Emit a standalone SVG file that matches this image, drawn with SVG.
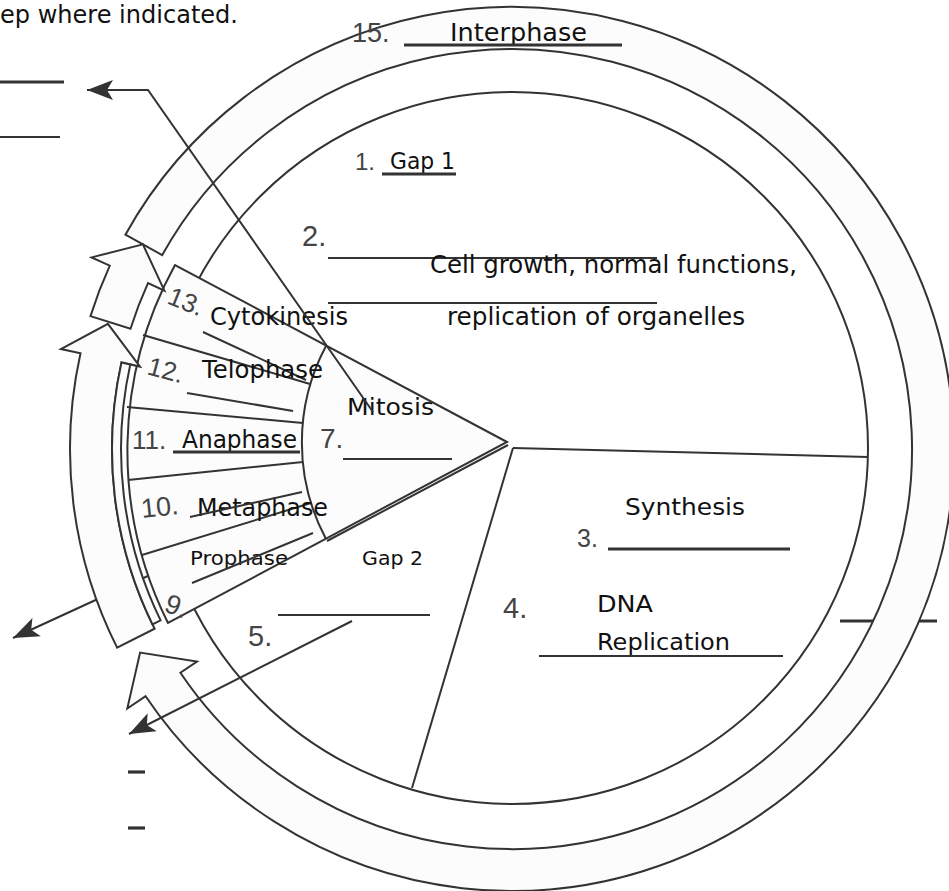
<svg xmlns="http://www.w3.org/2000/svg" width="949" height="891" viewBox="0 0 949 891">
<style>
.s{fill:none;stroke:#333;stroke-width:2}
.band{fill:#fcfcfc;stroke:#333;stroke-width:2;stroke-linejoin:miter}
.lbl{font-family:"DejaVu Sans","Noto Sans",sans-serif;fill:#111}
.num{font-family:"Liberation Sans",Arial,sans-serif;fill:#444}
.b{stroke:#333;stroke-width:2;fill:none}
.bt{stroke:#333;stroke-width:3.2;fill:none}
</style>
<defs>
<marker id="ah" markerUnits="userSpaceOnUse" viewBox="-27 -11 28 22" refX="0" refY="0" markerWidth="28" markerHeight="22" orient="auto">
<path d="M0,0 L-26,-10 L-20,0 L-26,10 Z" fill="#333"/>
</marker>
</defs>
<rect width="949" height="891" fill="#fff"/>

<g id="instruction"><text class="lbl" x="0" y="23" font-size="24" fill="#333" textLength="238" lengthAdjust="spacingAndGlyphs">ep where indicated.</text></g>
<g id="left-blanks">
<line class="bt" x1="0" y1="82" x2="64" y2="82"/>
<line class="b" x1="0" y1="137" x2="60" y2="137"/>
<line class="bt" x1="128" y1="772" x2="145" y2="772"/>
<line class="bt" x1="128" y1="828" x2="145" y2="828"/>
<line class="bt" x1="840" y1="621" x2="937" y2="621"/>
</g>

<g id="cell-cycle">
<circle class="s" cx="512" cy="448" r="356"/>
<line class="s" x1="513" y1="448" x2="868" y2="457"/>
<line class="s" x1="513" y1="448" x2="412" y2="788"/>
</g>

<g id="connector-under">
<line class="s" x1="150" y1="575" x2="13" y2="638" marker-end="url(#ah)"/>
</g>

<g id="mitosis-wedge">
<path class="band" d="M507,442 L175,265 A386,386 0 0 0 168,623 Z"/>
<line class="s" x1="508" y1="445" x2="327" y2="541"/>
<path class="s" d="M326,346 A205,205 0 0 0 326,539"/>
<line class="s" x1="143" y1="335" x2="310" y2="384"/>
<line class="s" x1="127" y1="407" x2="303" y2="423"/>
<line class="s" x1="128" y1="480" x2="303" y2="462"/>
<line class="s" x1="142" y1="555" x2="311" y2="503"/>
</g>

<g id="interphase-ring">
<path class="band" d="M125.4,234.7 A442,442 0 1 1 145.6,696.2 L127.3,708.5 L140.1,652.6 L197.0,661.5 L180.4,672.7 A400,400 0 1 0 162.2,255.1 Z"/>
</g>
<g id="arrow-b">
<path class="band" d="M90.5,316.1 A442,442 0 0 1 109.8,265.7 L91.6,257.4 L142.9,244.4 L164.4,290.6 L148.0,283.1 A400,400 0 0 0 130.5,328.7 Z"/>
</g>
<g id="arrow-c">
<path class="band" d="M117.1,647.6 A442,442 0 0 1 80.5,353.3 L60.9,349.0 L107.9,323.9 L140.0,366.6 L121.5,362.4 A400,400 0 0 0 154.6,628.7 Z"/>
<path class="band" d="M121.5,362.4 L130.3,364.4 A391,391 0 0 0 160.6,620.4 L152.5,624.4 A400,400 0 0 1 121.5,362.4 Z"/>
</g>

<g id="label-15">
<text class="num" x="352" y="42" font-size="27">15.</text>
<text class="lbl" x="450" y="41" font-size="24" fill="#333" textLength="137" lengthAdjust="spacingAndGlyphs">Interphase</text>
<line class="bt" x1="404" y1="45" x2="622" y2="45"/>
</g>
<g id="label-1">
<text class="num" x="355" y="170" font-size="24">1.</text>
<text class="lbl" x="390" y="169" font-size="23" fill="#333" textLength="65" lengthAdjust="spacingAndGlyphs">Gap 1</text>
<line class="bt" x1="382" y1="174" x2="456" y2="174"/>
</g>
<g id="label-2">
<text class="num" x="302" y="246" font-size="29">2.</text>
<line class="b" x1="328" y1="258" x2="657" y2="258" stroke="#555"/>
<line class="b" x1="328" y1="303" x2="657" y2="303" stroke="#555"/>
<text class="lbl" x="430" y="273" font-size="24" textLength="367" lengthAdjust="spacingAndGlyphs">Cell growth, normal functions,</text>
<text class="lbl" x="447" y="325" font-size="24" textLength="298" lengthAdjust="spacingAndGlyphs">replication of organelles</text>
</g>
<g id="label-13">
<text class="num" x="166" y="303" font-size="26" transform="rotate(22 166 303)">13.</text>
<text class="lbl" x="210" y="325" font-size="24" textLength="138" lengthAdjust="spacingAndGlyphs">Cytokinesis</text>
<line class="b" x1="203" y1="332" x2="306" y2="380"/>
</g>
<g id="label-12">
<text class="num" x="146" y="374" font-size="26" transform="rotate(15 146 374)">12.</text>
<text class="lbl" x="202" y="378" font-size="24" textLength="121" lengthAdjust="spacingAndGlyphs">Telophase</text>
<line class="b" x1="187" y1="393" x2="293" y2="411"/>
</g>
<g id="label-11">
<text class="num" x="132" y="449" font-size="26">11.</text>
<text class="lbl" x="182" y="448" font-size="24" fill="#333" textLength="115" lengthAdjust="spacingAndGlyphs">Anaphase</text>
<line class="bt" x1="173" y1="452" x2="300" y2="452"/>
</g>
<g id="label-10">
<text class="num" x="142" y="518" font-size="27" transform="rotate(-6 142 518)">10.</text>
<text class="lbl" x="197" y="516" font-size="24" textLength="131" lengthAdjust="spacingAndGlyphs">Metaphase</text>
<line class="b" x1="190" y1="517" x2="302" y2="492"/>
</g>
<g id="label-9">
<text class="lbl" x="190" y="565" font-size="20" textLength="98" lengthAdjust="spacingAndGlyphs">Prophase</text>
<line class="b" x1="192" y1="583" x2="313" y2="533"/>
<text class="num" x="163" y="611" font-size="27" transform="rotate(20 163 611)">9.</text>
</g>
<g id="label-7">
<text class="lbl" x="347" y="415" font-size="23" textLength="87" lengthAdjust="spacingAndGlyphs">Mitosis</text>
<text class="num" x="320" y="448" font-size="28">7.</text>
<line class="b" x1="343" y1="459" x2="452" y2="459"/>
</g>
<g id="label-5">
<text class="lbl" x="362" y="565" font-size="20" textLength="61" lengthAdjust="spacingAndGlyphs">Gap 2</text>
<line class="b" x1="278" y1="615" x2="430" y2="615"/>
<text class="num" x="248" y="646" font-size="29">5.</text>
</g>
<g id="label-3">
<text class="lbl" x="625" y="515" font-size="23" textLength="120" lengthAdjust="spacingAndGlyphs">Synthesis</text>
<text class="num" x="577" y="547" font-size="25">3.</text>
<line class="bt" x1="608" y1="549" x2="790" y2="549"/>
</g>
<g id="label-4">
<text class="num" x="503" y="618" font-size="29">4.</text>
<text class="lbl" x="597" y="612" font-size="23" textLength="56" lengthAdjust="spacingAndGlyphs">DNA</text>
<text class="lbl" x="597" y="650" font-size="23" textLength="133" lengthAdjust="spacingAndGlyphs">Replication</text>
<line class="b" x1="539" y1="656" x2="783" y2="656"/>
</g>

<g id="connectors">
<polyline class="s" points="373,412 148,90 87,90" marker-end="url(#ah)"/>
<line class="s" x1="352" y1="621" x2="129" y2="734" marker-end="url(#ah)"/>
</g>
</svg>
